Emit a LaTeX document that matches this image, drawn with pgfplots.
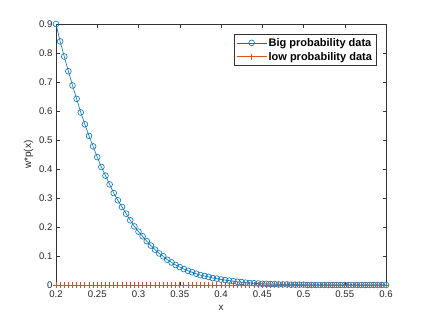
\documentclass[border=0pt]{standalone}
\usepackage{pgfplots}
\pgfplotsset{compat=1.18}
\usepackage{fontspec}
\setmainfont{Liberation Sans}
\definecolor{mblue}{rgb}{0,0.447,0.741}
\definecolor{matorange}{rgb}{0.85,0.325,0.098}
\begin{document}
\begin{tikzpicture}
\path[use as bounding box] (0,0) rectangle (428pt,322pt);
\begin{axis}[
  at={(56pt,37pt)}, anchor=south west,
  scale only axis, width=330pt, height=261pt,
  xmin=0.2, xmax=0.6, ymin=0, ymax=0.9,
  xtick={0.2,0.25,...,0.6}, ytick={0,0.1,...,0.9},
  tick align=inside, major tick length=3.5pt,
  axis line style={black!80}, tick style={black!80},
  tick label style={font=\fontsize{9.6}{11}\selectfont, text=black!85},
  xticklabel style={yshift=-2.5pt},
  /pgf/number format/assume math mode=true,
  /pgf/number format/fixed,
  xlabel={x}, ylabel={w*p(x)},
  label style={font=\fontsize{10}{11}\selectfont, text=black!85},
  xlabel style={yshift=-1pt},
  ylabel style={yshift=-1pt},
  legend style={at={(0.970,0.962)}, anchor=north east, draw=black!80,
    font=\fontsize{11}{13}\selectfont\bfseries, row sep=1.5pt, inner sep=2.5pt,
    nodes={inner sep=1.5pt}},
  legend cell align=left,
  legend image code/.code={
    \draw[mark repeat=2,mark phase=2] plot coordinates {(0pt,0pt) (15pt,0pt) (30pt,0pt)};},
]
\addplot[color=mblue, line width=0.6pt, mark=o, mark size=2.9pt] coordinates {
(0.200,0.900) (0.205,0.840) (0.210,0.788) (0.215,0.737) (0.220,0.688)
(0.225,0.642) (0.230,0.595) (0.235,0.554) (0.240,0.514) (0.245,0.478)
(0.250,0.441) (0.255,0.407) (0.260,0.377) (0.265,0.347) (0.270,0.317)
(0.275,0.292) (0.280,0.269) (0.285,0.246) (0.290,0.223) (0.295,0.202)
(0.300,0.184) (0.305,0.168) (0.310,0.151) (0.315,0.136) (0.320,0.122)
(0.325,0.109) (0.330,0.099) (0.335,0.087) (0.340,0.078) (0.345,0.069)
(0.350,0.062) (0.355,0.055) (0.360,0.049) (0.365,0.044) (0.370,0.039)
(0.375,0.034) (0.380,0.031) (0.385,0.028) (0.390,0.024) (0.395,0.022)
(0.400,0.019) (0.405,0.017) (0.410,0.015) (0.415,0.013) (0.420,0.011)
(0.425,0.010) (0.430,0.008) (0.435,0.007) (0.440,0.006) (0.445,0.005)
(0.450,0.004) (0.455,0.004) (0.460,0.003) (0.465,0.003) (0.470,0.002)
(0.475,0.002) (0.480,0.002) (0.485,0.001) (0.490,0.001) (0.495,0.001)
(0.500,0.001) (0.505,0) (0.510,0) (0.515,0) (0.520,0)
(0.525,0) (0.530,0) (0.535,0) (0.540,0) (0.545,0)
(0.550,0) (0.555,0) (0.560,0) (0.565,0) (0.570,0)
(0.575,0) (0.580,0) (0.585,0) (0.590,0) (0.595,0) (0.600,0)
};
\addlegendentry{Big probability data}
\addplot[color=matorange, line width=0.9pt, mark=+, mark size=2.8pt] coordinates {
(0.200,0) (0.205,0) (0.210,0) (0.215,0) (0.220,0)
(0.225,0) (0.230,0) (0.235,0) (0.240,0) (0.245,0)
(0.250,0) (0.255,0) (0.260,0) (0.265,0) (0.270,0)
(0.275,0) (0.280,0) (0.285,0) (0.290,0) (0.295,0)
(0.300,0) (0.305,0) (0.310,0) (0.315,0) (0.320,0)
(0.325,0) (0.330,0) (0.335,0) (0.340,0) (0.345,0)
(0.350,0) (0.355,0) (0.360,0) (0.365,0) (0.370,0)
(0.375,0) (0.380,0) (0.385,0) (0.390,0) (0.395,0)
(0.400,0) (0.405,0) (0.410,0) (0.415,0) (0.420,0)
(0.425,0) (0.430,0) (0.435,0) (0.440,0) (0.445,0)
(0.450,0) (0.455,0) (0.460,0) (0.465,0) (0.470,0)
(0.475,0) (0.480,0) (0.485,0) (0.490,0) (0.495,0)
(0.500,0) (0.505,0) (0.510,0) (0.515,0) (0.520,0)
(0.525,0) (0.530,0) (0.535,0) (0.540,0) (0.545,0)
(0.550,0) (0.555,0) (0.560,0) (0.565,0) (0.570,0)
(0.575,0) (0.580,0) (0.585,0) (0.590,0) (0.595,0) (0.600,0)
};
\addlegendentry{low probability data}
\end{axis}
\end{tikzpicture}
\end{document}
